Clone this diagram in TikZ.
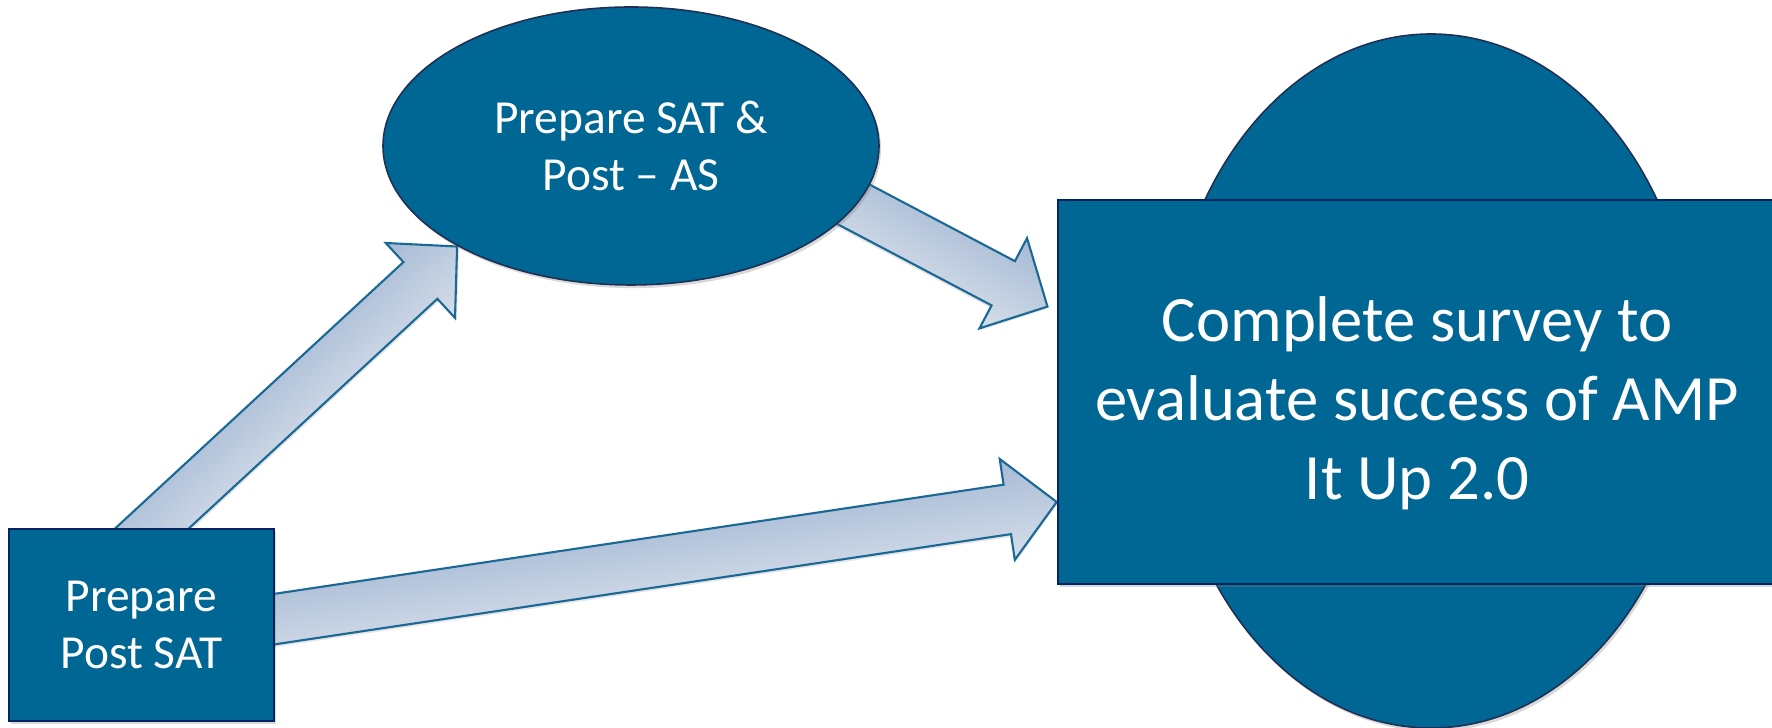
\documentclass[tikz,border=0pt]{standalone}
\usepackage{fontspec}
\setmainfont{Carlito}
\usepackage{tikz}
\usetikzlibrary{calc,shapes.geometric,shadows,backgrounds}
\usepackage{xcolor}
\definecolor{boxblue}{RGB}{0,102,148}
\definecolor{boxline}{RGB}{0,36,98}
\definecolor{ovline}{RGB}{30,48,84}
\definecolor{flline}{RGB}{26,104,150}
\definecolor{fldark}{RGB}{166,185,212}
\definecolor{fllight}{RGB}{214,223,234}

% fat arrow from #1 to #2, shaded across the shaft
\newcommand\flowarrow[2]{%
  \path let \p1=(#1), \p2=(#2),
    \n1={atan2(\y2-\y1,\x2-\x1)}, \n2={veclen(\x2-\x1,\y2-\y1)} in
    \pgfextra{\pgfmathsetmacro\fatmp{\n1}\xdef\faangle{\fatmp}%
      \pgfmathsetlengthmacro\fltmp{\n2}\xdef\falen{\fltmp}};
  \begin{scope}[transform canvas={shift={(#1)},rotate=\faangle}]
    \draw[fl] (0cm,.25cm) -- ({\falen-.5cm},.25cm) -- ({\falen-.5cm},.51cm)
      -- (\falen,0cm) -- ({\falen-.5cm},-.51cm) -- ({\falen-.5cm},-.25cm)
      -- (0cm,-.25cm) -- cycle;
  \end{scope}}

\begin{document}
\begin{tikzpicture}[
  font=\fontsize{13.5}{16.4}\selectfont,
  bx/.style={draw=boxline, line width=.7pt, fill=boxblue, text=white,
             align=center, inner sep=0pt,
             drop shadow={opacity=.3, shadow xshift=.6pt, shadow yshift=-.9pt}},
  ov/.style={ellipse, draw=ovline, line width=.45pt, fill=boxblue, text=white,
             align=center, inner sep=0pt,
             drop shadow={opacity=.3, shadow xshift=.6pt, shadow yshift=-.9pt}},
  fl/.style={draw=flline, line width=.6pt, top color=fldark, bottom color=fllight,
             line join=miter,
             drop shadow={opacity=.2, shadow xshift=0pt, shadow yshift=-.8pt}}]
\useasboundingbox (0,0) rectangle (17.72,7.28);

\node[bx, minimum width=2.65cm, minimum height=1.92cm] (post) at (1.415,1.03) {Prepare\\Post SAT};
\node[ov, minimum width=4.96cm, minimum height=2.78cm] (sat) at (6.31,5.82) {Prepare SAT \&\\Post \textendash{} AS};
\node[ov, minimum width=5.30cm, minimum height=6.94cm] (goal) at (14.31,3.47) {};
\node[bx, minimum width=7.18cm, minimum height=3.84cm, font=\fontsize{18.4}{22.4}\selectfont]
  (survey) at (14.17,3.36) {\rule{0pt}{1.05em}Complete survey to\\evaluate success of AMP\\It Up 2.0};

% arrow ends
\coordinate (t1) at ($(post.north)+(-0.18,-0.27)$);
\coordinate (t2) at ($(sat.east)+(-0.8,-0.3)$);
\coordinate (h2) at ($(survey.north west)+(-0.09,-1.08)$);
\coordinate (t3) at ($(post.east)+(-0.4,0)$);
\coordinate (h3) at ($(survey.west)+(0,-1.1)$);

\begin{scope}[on background layer]
  \flowarrow{t1}{sat.210}
  \flowarrow{t2}{h2}
  \flowarrow{t3}{h3}
\end{scope}
\end{tikzpicture}
\end{document}
